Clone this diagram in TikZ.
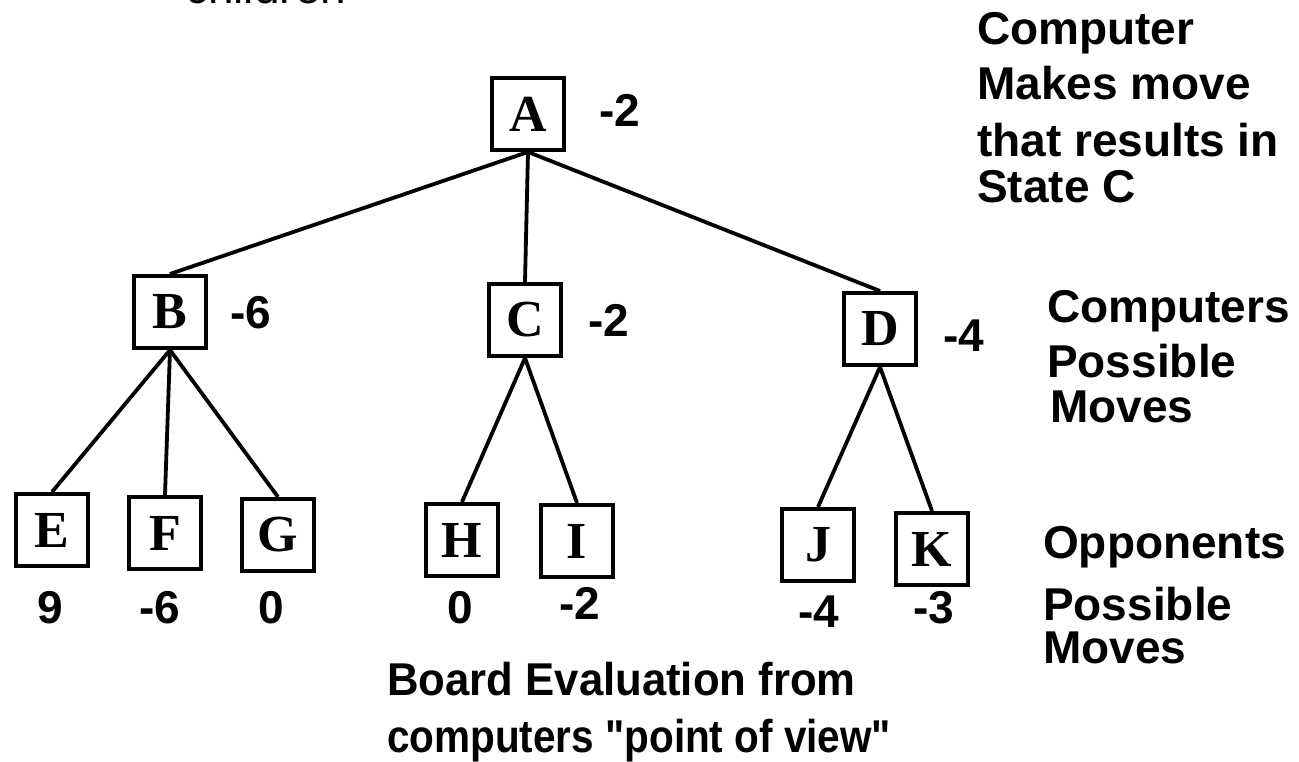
\documentclass[tikz,border=0pt]{standalone}
\usepackage{fontspec}
\setmainfont{Liberation Sans}[Ligatures=TeXOff]
\newfontfamily\letterfont{Liberation Serif}
\tikzset{
  state/.style={draw=black, line width=4pt, minimum width=72pt, minimum height=72pt, inner sep=0pt,
    font=\letterfont\bfseries\fontsize{52}{54}\selectfont},
  val/.style={inner sep=0pt, font=\bfseries\fontsize{46}{50}\selectfont},
  lbl/.style={inner sep=0pt, anchor=base west, font=\bfseries\fontsize{46}{50}\selectfont},
  edge/.style={draw=black, line width=3.8pt}
}
\begin{document}
\begin{tikzpicture}[x=1pt,y=-1pt]
\useasboundingbox (0,0) rectangle (1299,762);
\fill[white] (0,0) rectangle (1299,762);
% cut-off text at top
\node[inner sep=0pt, anchor=base west, font=\fontsize{46}{50}\selectfont] (top) at (185,4) {children};
% states
\node[state] (A) at (528,114) {A};
\node[state] (B) at (170,312) {B};
\node[state] (C) at (525,320) {C};
\node[state] (D) at (880,329) {D};
\node[state] (E) at (52,530) {E};
\node[state] (F) at (165,533) {F};
\node[state] (G) at (278,535) {G};
\node[state] (H) at (462,540) {H};
\node[state] (I) at (577,541) {I};
\node[state] (J) at (818,545) {J};
\node[state] (K) at (932,549) {K};
% edges
\draw[edge] (A.south) -- (B.north);
\draw[edge] (A.south) -- (C.north);
\draw[edge] (A.south) -- (D.north);
\draw[edge] (B.south) -- (E.north);
\draw[edge] (B.south) -- (F.north);
\draw[edge] (B.south) -- (G.north);
\draw[edge] (C.south) -- (H.north);
\draw[edge] (C.south) -- (I.north);
\draw[edge] (D.south) -- (J.north);
\draw[edge] (D.south) -- (K.north);
% values
\node[val] (vA) at (620,110) {-2};
\node[val] (vB) at (251,313) {-6};
\node[val] (vC) at (609,320) {-2};
\node[val] (vD) at (964,336) {-4};
\node[val] (vE) at (50,608) {9};
\node[val] (vF) at (160,608) {-6};
\node[val] (vG) at (271,608) {0};
\node[val] (vH) at (460,608) {0};
\node[val] (vI) at (580,603) {-2};
\node[val] (vJ) at (819,612) {-4};
\node[val] (vK) at (934,608) {-3};
% right labels
\node[lbl] (r1a) at (977,45) {Computer};
\node[lbl] (r1b) at (977,100) {Makes move};
\node[lbl] (r1c) at (977,157) {that results in};
\node[lbl] (r1d) at (977,203) {State C};
\node[lbl] (r2a) at (1047,322) {Computers};
\node[lbl] (r2b) at (1047,377) {Possible};
\node[lbl] (r2c) at (1050,422) {Moves};
\node[lbl] (r3a) at (1043,558) {Opponents};
\node[lbl] (r3b) at (1043,620) {Possible};
\node[lbl] (r3c) at (1043,663) {Moves};
% bottom label
\node[lbl] (b1) at (387,695) {\scalebox{0.95}[1]{Board Evaluation from}};
\node[lbl] (b2) at (387,752) {\scalebox{0.88}[1]{computers "point of view"}};
\end{tikzpicture}
\end{document}
